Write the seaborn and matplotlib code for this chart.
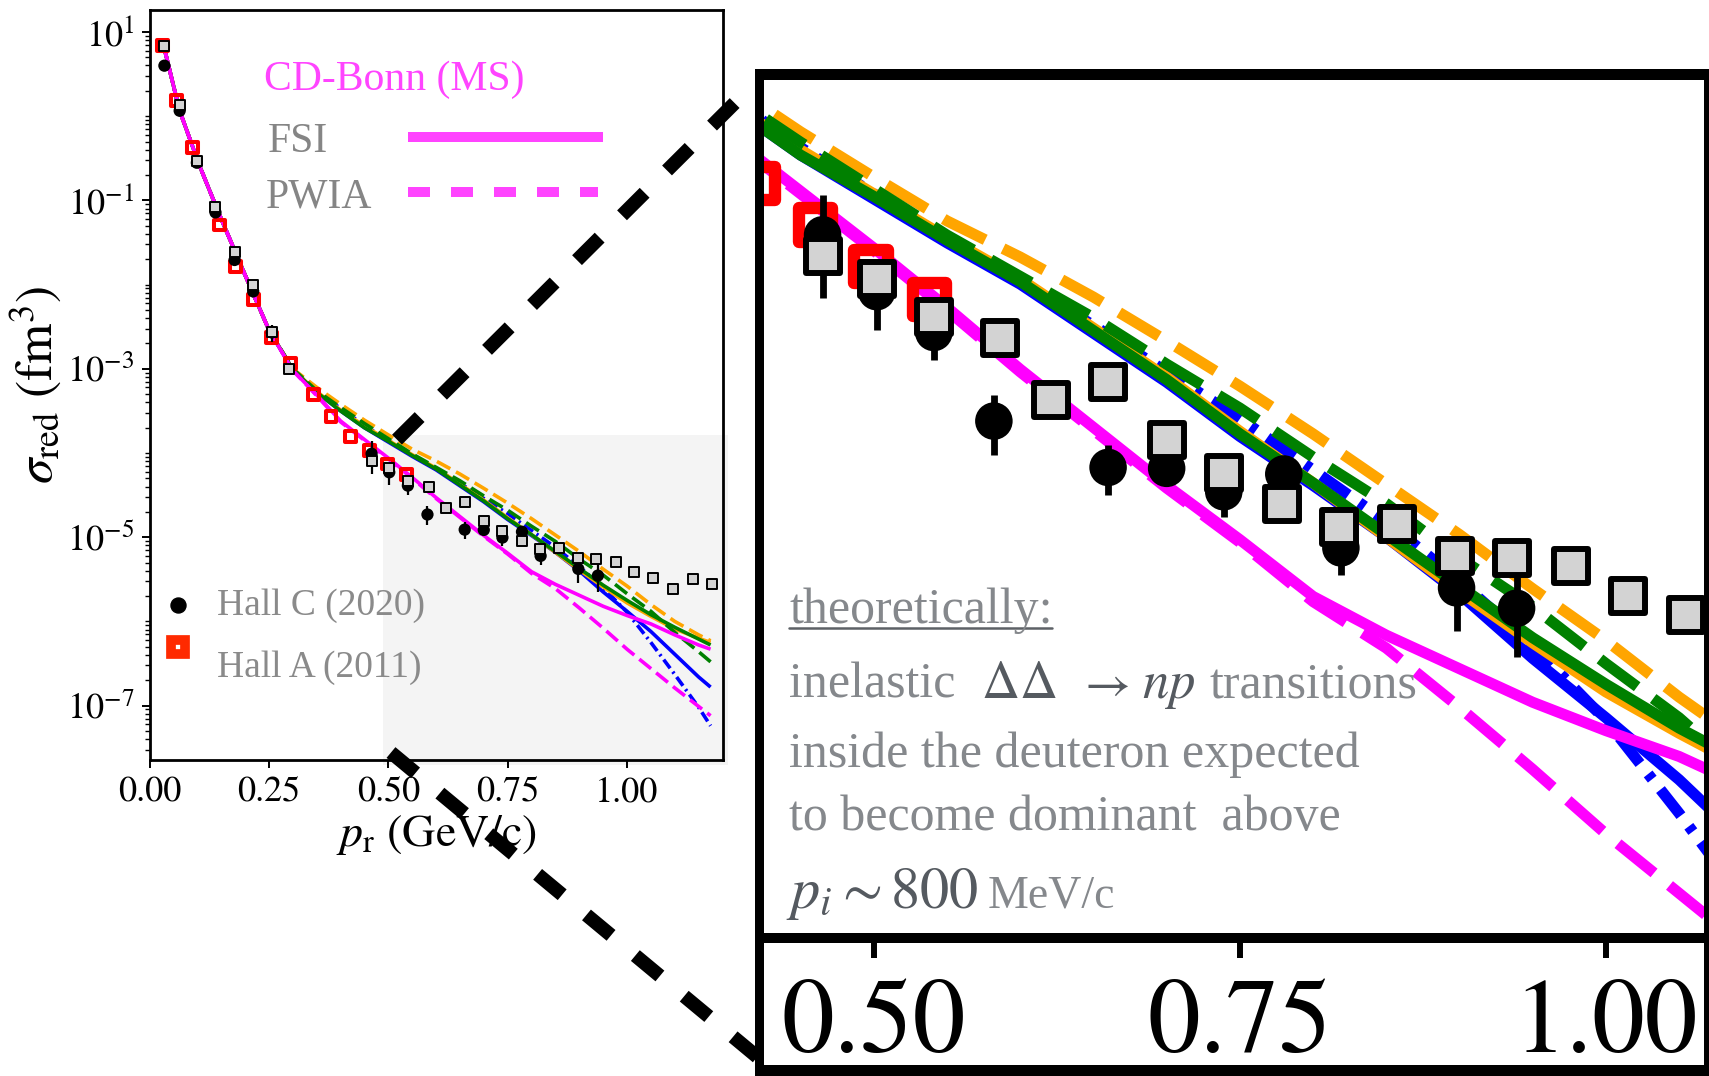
import numpy as np
import matplotlib
matplotlib.use("Agg")
import matplotlib.pyplot as plt
import seaborn as sns
from matplotlib.lines import Line2D
from matplotlib.patches import Rectangle
from matplotlib.ticker import LogLocator, NullFormatter

# ---------------------------------------------------------------- data
# momentum grid of the calculations (GeV/c)
p_theory = [0.03, 0.0626, 0.104, 0.145, 0.20, 0.25, 0.30, 0.35, 0.40, 0.45,
            0.50, 0.55, 0.60, 0.65, 0.70, 0.75, 0.80, 0.85, 0.90, 0.95,
            1.00, 1.05, 1.10, 1.15, 1.175]

# log10 of the reduced cross section (fm^3) for each calculation
cdbonn_fsi = [0.825, 0.07, -0.58, -1.153, -1.886, -2.54, -3.02, -3.31, -3.62, -3.84,
              -4.06, -4.29, -4.53, -4.755, -4.98, -5.19, -5.41, -5.56, -5.69, -5.82,
              -5.93, -6.03, -6.16, -6.28, -6.33]
cdbonn_pwia = [0.825, 0.07, -0.58, -1.153, -1.886, -2.54, -3.02, -3.32, -3.63, -3.85,
               -4.07, -4.30, -4.54, -4.765, -4.99, -5.20, -5.43, -5.61, -5.84, -6.08,
               -6.33, -6.56, -6.79, -7.01, -7.12]
blue_fsi = [0.825, 0.07, -0.58, -1.153, -1.886, -2.54, -3.01, -3.28, -3.50, -3.70,
            -3.87, -4.04, -4.20, -4.39, -4.58, -4.79, -4.98, -5.18, -5.40, -5.65,
            -5.88, -6.12, -6.39, -6.66, -6.78]
blue_pwia = [0.825, 0.07, -0.58, -1.153, -1.886, -2.54, -3.01, -3.27, -3.47, -3.67,
             -3.85, -4.03, -4.19, -4.36, -4.54, -4.72, -4.92, -5.12, -5.35, -5.60,
             -5.89, -6.25, -6.63, -7.02, -7.24]
green_fsi = [0.825, 0.07, -0.58, -1.153, -1.886, -2.54, -3.01, -3.28, -3.50, -3.70,
             -3.86, -4.03, -4.19, -4.38, -4.57, -4.78, -4.97, -5.17, -5.37, -5.57,
             -5.75, -5.92, -6.07, -6.21, -6.28]
green_pwia = [0.825, 0.07, -0.58, -1.153, -1.886, -2.54, -3.00, -3.26, -3.46, -3.65,
              -3.83, -4.01, -4.17, -4.33, -4.51, -4.68, -4.87, -5.05, -5.26, -5.45,
              -5.67, -5.88, -6.13, -6.36, -6.48]
orange_fsi = [0.825, 0.07, -0.58, -1.153, -1.886, -2.54, -3.01, -3.27, -3.49, -3.68,
              -3.85, -4.02, -4.18, -4.37, -4.56, -4.77, -4.97, -5.18, -5.39, -5.59,
              -5.78, -5.94, -6.09, -6.20, -6.25]
orange_pwia = [0.825, 0.07, -0.58, -1.153, -1.886, -2.54, -3.00, -3.22, -3.42, -3.61,
               -3.785, -3.955, -4.095, -4.25, -4.42, -4.595, -4.78, -4.975, -5.17, -5.38,
               -5.58, -5.80, -6.00, -6.16, -6.23]

# Hall A (2011)
hallA_p = [0.027, 0.057, 0.090, 0.146, 0.180, 0.217, 0.256, 0.295, 0.343, 0.380,
           0.421, 0.460, 0.498, 0.538]
hallA_sigma = [6.9, 1.55, 0.42, 0.051, 0.0166, 0.0066, 0.00234, 0.00115, 5.0e-4, 2.7e-4,
               1.55e-4, 1.07e-4, 7.4e-5, 5.5e-5]

# Hall C (2020)
hallC_p = [0.031, 0.063, 0.099, 0.138, 0.178, 0.217, 0.256, 0.465, 0.502, 0.541,
           0.582, 0.660, 0.700, 0.739, 0.780, 0.819, 0.898, 0.939]
hallC_sigma = [3.98, 1.16, 0.28, 0.072, 0.0196, 0.0083, 0.0027, 9.8e-5, 5.9e-5, 4.1e-5,
               1.86e-5, 1.23e-5, 1.22e-5, 9.9e-6, 1.16e-5, 6.0e-6, 4.2e-6, 3.5e-6]
hallC_err = [0.5, 0.12, 0.03, 0.008, 0.002, 0.0009, 0.0006, 4.2e-5, 1.7e-5, 0.9e-5,
             0.48e-5, 0.27e-5, 0.15e-5, 2.0e-6, 1.0e-6, 1.3e-6, 1.35e-6, 1.24e-6]

# Hall C (2020), second kinematic setting
hallC2_p = [0.031, 0.063, 0.099, 0.137, 0.178, 0.217, 0.256, 0.292, 0.465, 0.502,
            0.541, 0.586, 0.621, 0.660, 0.700, 0.739, 0.779, 0.818, 0.857, 0.897,
            0.936, 0.976, 1.015, 1.055, 1.096, 1.138, 1.178]
hallC2_sigma = [6.9, 1.35, 0.295, 0.083, 0.0245, 0.0098, 0.00275, 1.0e-3, 8.1e-5, 6.6e-5,
                4.7e-5, 3.9e-5, 2.24e-5, 2.63e-5, 1.57e-5, 1.17e-5, 8.9e-6, 7.2e-6, 7.4e-6, 5.6e-6,
                5.5e-6, 5.1e-6, 3.9e-6, 3.3e-6, 2.45e-6, 3.2e-6, 2.8e-6]

x_ticks = [0.0, 0.25, 0.50, 0.75, 1.00]
x_tick_labels = ["0.00", "0.25", "0.50", "0.75", "1.00"]
y_ticks = [1e1, 1e-1, 1e-3, 1e-5, 1e-7]
y_tick_labels = [r"$10^{1}$", r"$10^{-1}$", r"$10^{-3}$", r"$10^{-5}$", r"$10^{-7}$"]
zoom_ticks = [0.50, 0.75, 1.00]
zoom_tick_labels = ["0.50", "0.75", "1.00"]

# ---------------------------------------------------------------- style
sns.set_theme(style="ticks", rc={"axes.edgecolor": "black", "xtick.color": "black",
                                 "ytick.color": "black", "axes.labelcolor": "black",
                                 "text.color": "black"})
plt.rcParams["font.family"] = ["STIXGeneral", "DejaVu Serif"]
plt.rcParams["mathtext.fontset"] = "stix"

W, H = 1709, 1076
fig = plt.figure(figsize=(W / 100, H / 100), dpi=100)
fig.patch.set_facecolor("white")


def rect(x0, y0, x1, y1):
    return [x0 / W, 1 - y1 / H, (x1 - x0) / W, (y1 - y0) / H]


def fxy(x, y):
    return x / W, 1 - y / H


SERIF = ["Liberation Serif", "DejaVu Serif"]
MAGENTA = "#ff00ff"

curve_specs = [
    (blue_fsi, "#0000ff", "-", 2.0),
    (blue_pwia, "#0000ff", (0, (3.0, 1.2, 0.6, 1.2)), 2.0),
    (orange_fsi, "#ffa500", "-", 2.1),
    (orange_pwia, "#ffa500", (0, (4.2, 1.8)), 2.1),
    (green_fsi, "#008000", "-", 2.3),
    (green_pwia, "#008000", (0, (4.2, 1.8)), 2.2),
    (cdbonn_pwia, MAGENTA, (0, (4.2, 1.8)), 2.5),
    (cdbonn_fsi, MAGENTA, "-", 2.6),
]


def draw_panel(ax, k):
    """Calculations and data; k scales line widths and marker sizes."""
    ax.set_yscale("log")
    for vals, color, ls, z in curve_specs:
        sns.lineplot(x=p_theory, y=np.power(10.0, vals), ax=ax, color=color,
                     linestyle=ls, lw=2.6 * k, estimator=None, sort=False,
                     legend=False, zorder=z, solid_capstyle="butt", dash_capstyle="butt")
    sns.scatterplot(x=hallA_p, y=hallA_sigma, ax=ax, marker="s", s=62 * k * k,
                    facecolor="none", edgecolor="#ff0000", linewidth=2.9 * k,
                    legend=False, zorder=4)
    ax.errorbar(hallC_p, hallC_sigma, yerr=hallC_err, fmt="none", ecolor="black",
                elinewidth=1.6 * k, capsize=0, zorder=5)
    sns.scatterplot(x=hallC_p, y=hallC_sigma, ax=ax, marker="o", s=78 * k * k,
                    color="black", edgecolor="none", linewidth=0, legend=False, zorder=5)
    sns.scatterplot(x=hallC2_p, y=hallC2_sigma, ax=ax, marker="s", s=62 * k * k,
                    facecolor="#d3d3d3", edgecolor="black", linewidth=1.4 * k,
                    legend=False, zorder=6)


# highlighted region of the main panel
fig.add_artist(Rectangle(fxy(383.3, 765), (728 - 383.3) / W, (765 - 435) / H,
                         transform=fig.transFigure, facecolor="#f4f4f4",
                         edgecolor="none", zorder=-1))

# ---------------------------------------------------------------- main panel
ax = fig.add_axes(rect(149.6, 10, 722.5, 760))
ax.set_facecolor("none")
draw_panel(ax, 1.0)
ax.set_xlim(0, 1.2)
ax.set_ylim(10 ** -7.646, 10 ** 1.261)
ax.set_xticks(x_ticks, x_tick_labels)
ax.set_yticks(y_ticks, y_tick_labels)
ax.yaxis.set_minor_locator(LogLocator(base=10, subs=np.arange(1, 10) * 1.0, numticks=200))
ax.yaxis.set_minor_formatter(NullFormatter())
ax.tick_params(axis="both", which="major", labelsize=26, length=6, width=1.4,
               direction="out", colors="black")
ax.tick_params(axis="x", pad=6)
ax.tick_params(axis="y", pad=5)
ax.tick_params(axis="y", which="minor", length=3.5, width=1.0)
for sp in ax.spines.values():
    sp.set_linewidth(2.0)
    sp.set_color("black")
ax.set_xlabel(r"$p_{\rm r}$ (GeV/c)", fontsize=33, labelpad=2)
ax.set_ylabel(r"$\sigma_{\rm red}$ (fm$^{3}$)", fontsize=37, labelpad=2)

# legend block of the main panel
fig.text(*fxy(264, 90), "CD-Bonn (MS)", color="#ff44ff", fontsize=30, family=SERIF,
         va="baseline")
fig.text(*fxy(268, 152), "FSI", color="#858585", fontsize=30, family=SERIF, va="baseline")
fig.text(*fxy(266, 208), "PWIA", color="#858585", fontsize=30, family=SERIF, va="baseline")
fig.add_artist(Line2D([408 / W, 603 / W], [1 - 137 / H] * 2, transform=fig.transFigure,
                      color="#ff44ff", lw=7.2, solid_capstyle="butt"))
fig.add_artist(Line2D([408 / W, 598 / W], [1 - 192 / H] * 2, transform=fig.transFigure,
                      color="#ff44ff", lw=7.2, linestyle=(0, (2.2, 2.1)),
                      dash_capstyle="butt"))
fig.add_artist(Line2D([178 / W], [1 - 605 / H], transform=fig.transFigure, marker="o",
                      ms=10.8, color="black", lw=0))
fig.add_artist(Line2D([178 / W], [1 - 647 / H], transform=fig.transFigure, marker="s",
                      ms=9.5, mfc="white", mec="#ff2a00", mew=7, lw=0))
fig.text(*fxy(217, 615), "Hall C (2020)", color="#8a8a8a", fontsize=27, family=SERIF,
         va="baseline")
fig.text(*fxy(217, 677), "Hall A (2011)", color="#8a8a8a", fontsize=27, family=SERIF,
         va="baseline")

# ---------------------------------------------------------------- magnified panel
fig.add_artist(Rectangle(fxy(755, 1076), (1709 - 755) / W, (1076 - 69) / H,
                         transform=fig.transFigure, facecolor="black",
                         edgecolor="none", zorder=-2))
fig.add_artist(Rectangle(fxy(764, 1065), (1704 - 764) / W, (1065 - 943) / H,
                         transform=fig.transFigure, facecolor="white",
                         edgecolor="none", zorder=-1.5))

axz = fig.add_axes(rect(764, 80, 1704, 933))
axz.set_facecolor("white")
draw_panel(axz, 3.06)
axz.set_xlim(0.425, 1.067)
axz.set_ylim(10 ** -6.714, 10 ** -3.409)
axz.set_xticks(zoom_ticks, zoom_tick_labels)
axz.tick_params(axis="x", which="major", direction="out", length=18, width=4.3,
                labelsize=76, pad=15, colors="black")
axz.tick_params(axis="y", which="both", left=False, right=False, labelleft=False)
axz.tick_params(axis="x", which="minor", bottom=False)
for sp in axz.spines.values():
    sp.set_visible(False)

# annotation inside the magnified panel
GRAY = "#85888c"
DARK = "#555a60"
fs = 36
fig.text(*fxy(789, 623), "theoretically:", color=GRAY, fontsize=fs, family=SERIF,
         va="baseline", zorder=8)
fig.add_artist(Line2D([789 / W, 1052 / W], [1 - 628 / H] * 2, transform=fig.transFigure,
                      color="#5d6166", lw=1.8, zorder=8))
fig.text(*fxy(789, 698), "inelastic", color=GRAY, fontsize=fs, family=SERIF,
         va="baseline", zorder=8)
fig.text(*fxy(981, 698), r"$\Delta\Delta$", color=DARK, fontsize=fs + 2,
         va="baseline", zorder=8)
fig.text(*fxy(1077, 698), r"$\rightarrow$", color=DARK, fontsize=fs, va="baseline", zorder=8)
fig.text(*fxy(1142, 698), r"$np$", color=DARK, fontsize=fs + 2, va="baseline", zorder=8)
fig.text(*fxy(1210, 698), "transitions", color=GRAY, fontsize=fs, family=SERIF,
         va="baseline", zorder=8)
fig.text(*fxy(789, 767), "inside the deuteron expected", color=GRAY, fontsize=fs,
         family=SERIF, va="baseline", zorder=8)
fig.text(*fxy(789, 830), "to become dominant  above", color=GRAY, fontsize=fs,
         family=SERIF, va="baseline", zorder=8)
fig.text(*fxy(786, 908), r"$p_i \sim 800$", color=DARK, fontsize=42, va="baseline", zorder=8)
fig.text(*fxy(988, 908), "MeV/c", color=GRAY, fontsize=33, family=SERIF,
         va="baseline", zorder=8)

# dashed guides joining the highlighted region to the magnified panel
fig.add_artist(Line2D([397 / W, 736.5 / W], [1 - 439.6 / H, 1 - 101.2 / H],
                      transform=fig.transFigure, color="black", lw=10,
                      linestyle=(0, (2.3, 2.275)), dash_capstyle="butt", zorder=20))
fig.add_artist(Line2D([391 / W, 757.3 / W], [1 - 752.5 / H, 1 - 1056.9 / H],
                      transform=fig.transFigure, color="black", lw=10,
                      linestyle=(0, (2.3, 2.275)), dash_capstyle="butt", zorder=20))

fig.savefig("out.png", dpi=100, facecolor="white")
